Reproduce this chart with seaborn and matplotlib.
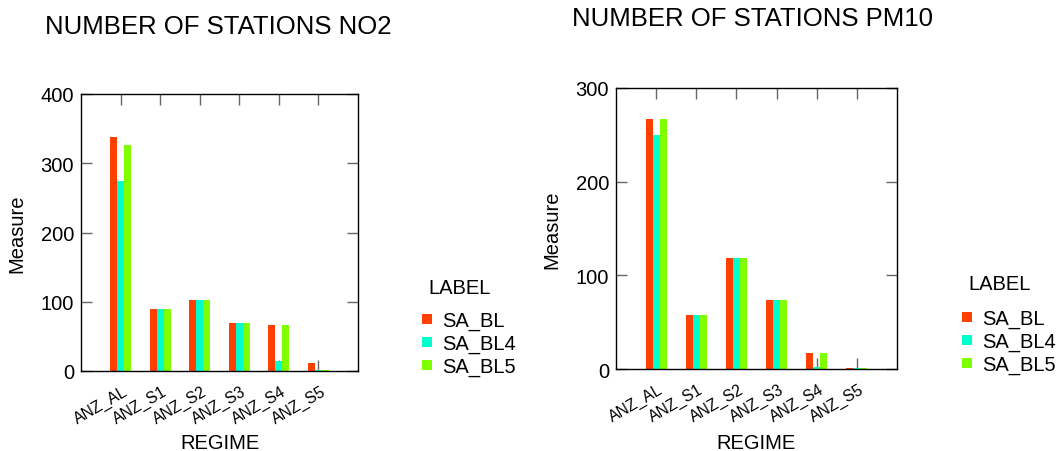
import matplotlib
matplotlib.use("Agg")
import matplotlib.pyplot as plt
from matplotlib.lines import Line2D
from matplotlib.transforms import ScaledTranslation
import seaborn as sns
import pandas as pd

regimes = ["ANZ_AL", "ANZ_S1", "ANZ_S2", "ANZ_S3", "ANZ_S4", "ANZ_S5"]
labels = ["SA_BL", "SA_BL4", "SA_BL5"]

no2_bl = [338, 90, 102, 69, 67, 11]
no2_bl4 = [275, 90, 102, 69, 14, 1.5]
no2_bl5 = [327, 90, 102, 69, 67, 1.5]

pm10_bl = [267, 58, 118, 74, 17, 1]
pm10_bl4 = [250, 58, 118, 74, 2, 1]
pm10_bl5 = [267, 58, 118, 74, 17, 1]

colors = ["#FF4000", "#00FFCC", "#80FF00"]

sns.set_theme(style="white")
plt.rcParams["font.family"] = ["Liberation Sans", "DejaVu Sans"]
plt.rcParams["text.color"] = "black"
plt.rcParams["axes.labelcolor"] = "black"

W, H = 1061, 452
fig = plt.figure(figsize=(W / 100, H / 100), dpi=100)

FS = 14.5
XFS = 11.3
TICKC = "#666666"


def panel(rect, bl, bl4, bl5, ymax, yticks, title, title_xy, legend_xy, labtitle_xy):
    l, t, w, h = rect
    ax = fig.add_axes([l / W, 1 - (t + h) / H, w / W, h / H])
    df = pd.DataFrame({
        "REGIME": regimes * 3,
        "Measure": bl + bl4 + bl5,
        "LABEL": [labels[0]] * 6 + [labels[1]] * 6 + [labels[2]] * 6,
    })
    sns.barplot(data=df, x="REGIME", y="Measure", hue="LABEL",
                hue_order=labels, palette=colors, width=0.525,
                saturation=1, linewidth=0, legend=False, ax=ax)
    ax.set_xlim(-1, 6)
    ax.set_ylim(0, ymax)
    ax.set_yticks(yticks)
    for s in ax.spines.values():
        s.set_visible(True)
        s.set_color("black")
        s.set_linewidth(1.0)
    ax.tick_params(direction="in", length=8, width=1, color=TICKC,
                   top=True, right=True, bottom=True, left=True,
                   labelsize=FS, labelcolor="black", pad=5)
    ax.tick_params(axis="x", pad=9)
    ax.set_xticks(range(len(regimes)))
    ax.set_xticklabels(regimes, rotation=30, ha="right", va="top",
                       rotation_mode="anchor", fontsize=XFS)
    shift = ScaledTranslation(2 / 100, 0, fig.dpi_scale_trans)
    for lab in ax.get_xticklabels():
        lab.set_transform(lab.get_transform() + shift)
    ax.set_xlabel("REGIME", fontsize=FS, va="top")
    ax.xaxis.set_label_coords(0.5, -(434 - (t + h)) / h)
    ax.set_ylabel("Measure", fontsize=FS, labelpad=10)
    fig.text(title_xy[0] / W, 1 - title_xy[1] / H, title,
             fontsize=18.5, ha="left", va="center")
    fig.text(labtitle_xy[0] / W, 1 - labtitle_xy[1] / H, "LABEL",
             fontsize=FS, ha="left", va="center")
    handles = [Line2D([], [], marker="s", linestyle="none", markersize=7.5,
                      markerfacecolor=c, markeredgewidth=0) for c in colors]
    fig.legend(handles, labels, loc="upper left",
               bbox_to_anchor=(legend_xy[0] / W, 1 - legend_xy[1] / H),
               frameon=False, fontsize=FS, handlelength=0.6,
               handletextpad=0.45, labelspacing=0.18, borderpad=0,
               borderaxespad=0)
    return ax


panel((81, 95, 277, 277), no2_bl, no2_bl4, no2_bl5, 400, [0, 100, 200, 300, 400],
      "NUMBER OF STATIONS NO2", (45, 27), (421, 312), (428, 288))
panel((616, 89, 281, 281), pm10_bl, pm10_bl4, pm10_bl5, 300, [0, 100, 200, 300],
      "NUMBER OF STATIONS PM10", (572, 19), (961, 310), (968, 285))

fig.savefig("out.png", dpi=100)
